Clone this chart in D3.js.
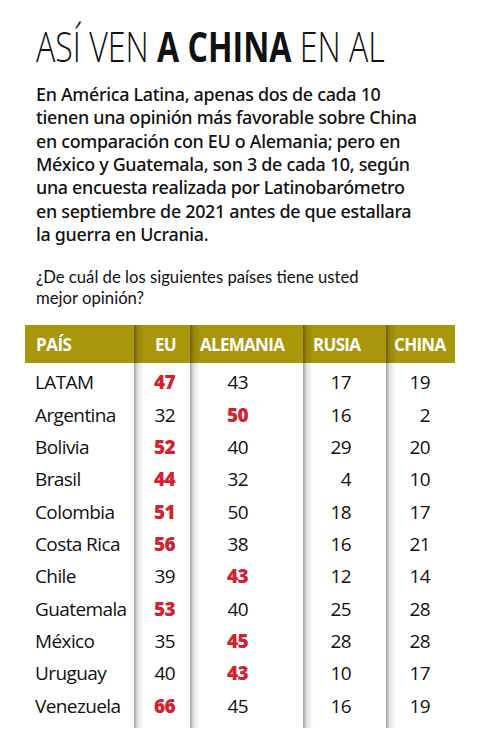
<!DOCTYPE html>
<html>
<head>
<meta charset="utf-8">
<script src="https://cdn.jsdelivr.net/npm/d3@7"></script>
<style>
  html, body { margin: 0; padding: 0; background: #fff; }
  svg { display: block; }
</style>
</head>
<body>
<div id="chart"></div>
<script>
const countries = ['LATAM', 'Argentina', 'Bolivia', 'Brasil', 'Colombia', 'Costa Rica',
                   'Chile', 'Guatemala', 'México', 'Uruguay', 'Venezuela'];
const columns = ['EU', 'ALEMANIA', 'RUSIA', 'CHINA'];
const euValues       = [47, 32, 52, 44, 51, 56, 39, 53, 35, 40, 66];
const alemaniaValues = [43, 50, 40, 32, 50, 38, 43, 40, 45, 43, 45];
const rusiaValues    = [17, 16, 29,  4, 18, 16, 12, 25, 28, 10, 16];
const chinaValues    = [19,  2, 20, 10, 17, 21, 14, 28, 28, 17, 19];

const titleParts = [
  { text: 'ASÍ VEN ', bold: false },
  { text: 'A CHINA', bold: true },
  { text: ' EN AL', bold: false }
];
const introLines = [
  'En América Latina, apenas dos de cada 10',
  'tienen una opinión más favorable sobre China',
  'en comparación con EU o Alemania; pero en',
  'México y Guatemala, son 3 de cada 10, según',
  'una encuesta realizada por Latinobarómetro',
  'en septiembre de 2021 antes de que estallara',
  'la guerra en Ucrania.'
];
const questionLines = [
  '¿De cuál de los siguientes países tiene usted',
  'mejor opinión?'
];

const width = 482
    , height = 756
    , gold = '#a8960b'
    , red = '#d0232f'
    , ink = '#111'
    , font = '"Open Sans", "Noto Sans", sans-serif'
    ;

const rows = countries.map((name, i) => ({
  name,
  values: [euValues[i], alemaniaValues[i], rusiaValues[i], chinaValues[i]]
}));

const svg = d3.select('#chart')
  .append('svg')
  .attr('width', width)
  .attr('height', height);

const defs = svg.append('defs');
const shade = defs.append('linearGradient')
  .attr('id', 'shade')
  .attr('x1', 0).attr('x2', 1).attr('y1', 0).attr('y2', 0);
shade.append('stop').attr('offset', 0).attr('stop-color', '#000').attr('stop-opacity', 0.38);
shade.append('stop').attr('offset', 0.35).attr('stop-color', '#000').attr('stop-opacity', 0.12);
shade.append('stop').attr('offset', 1).attr('stop-color', '#000').attr('stop-opacity', 0);

// title: condensed by a horizontal scale so it spans the same width as the reference
const titleG = svg.append('g');
const title = titleG.append('text')
  .style('font', `300 42px ${font}`)
  .style('fill', ink);
title.selectAll('tspan')
  .data(titleParts)
  .join('tspan')
    .style('font-weight', d => d.bold ? 700 : 300)
    .text(d => d.text);
const titleW = title.node().getComputedTextLength();
titleG.attr('transform', `translate(36,62) scale(${349 / titleW},1)`);

// intro
svg.append('g')
  .style('font', `500 17.9px "Noto Sans", sans-serif`)
  .style('fill', ink)
  .selectAll('text')
  .data(introLines)
  .join('text')
    .attr('x', 36)
    .attr('y', (d, i) => 101 + i * 23.3)
    .style('letter-spacing', '-0.3px')
    .text(d => d);

// question
svg.append('g')
  .style('font', `400 16.7px Lato, "Open Sans", sans-serif`)
  .style('fill', ink)
  .selectAll('text')
  .data(questionLines)
  .join('text')
    .attr('x', 36)
    .attr('y', (d, i) => 283 + i * 21)
    .text(d => d);

// table layout
const tableLeft = 25, tableRight = 455;
const colEdges = [134, 190, 303, 386, tableRight];   // left edge of each value column, then table end
const headerTop = 325, headerBottom = 363, tableBottom = 728;

const y = d3.scaleBand()
  .domain(countries)
  .range([headerBottom + 3, tableBottom - 6]);

const colLeft = d3.scaleOrdinal().domain(columns).range(colEdges.slice(0, 4));
const colRight = d3.scaleOrdinal().domain(columns).range(colEdges.slice(1));

svg.append('rect')
  .attr('x', tableLeft)
  .attr('y', headerTop)
  .attr('width', tableRight - tableLeft)
  .attr('height', headerBottom - headerTop)
  .attr('fill', gold);

// column shadows
svg.append('g')
  .selectAll('rect')
  .data(columns)
  .join('rect')
    .attr('x', d => colLeft(d))
    .attr('y', headerTop)
    .attr('width', 10)
    .attr('height', tableBottom - headerTop)
    .attr('fill', 'url(#shade)');

// header labels
const header = svg.append('g')
  .style('font', `700 17px ${font}`)
  .style('fill', '#fff');

header.append('text')
  .attr('x', 36)
  .attr('y', 351)
  .style('letter-spacing', '-0.5px')
  .text('PAÍS');

header.selectAll('text.col')
  .data(columns)
  .join('text')
    .attr('class', 'col')
    .attr('x', d => d === 'EU' ? colRight(d) - 14 : colLeft(d) + (d === 'CHINA' ? 8 : 10))
    .attr('y', 351)
    .attr('text-anchor', d => d === 'EU' ? 'end' : 'start')
    .style('letter-spacing', '-0.7px')
    .text(d => d);

// body rows
const body = svg.append('g')
  .style('font', `400 19px ${font}`)
  .style('fill', ink);

const row = body.selectAll('g')
  .data(rows)
  .join('g')
    .attr('transform', d => `translate(0,${y(d.name) + y.bandwidth() / 2 + 7})`);

row.append('text')
  .attr('x', 35)
  .style('letter-spacing', '-0.6px')
  .text(d => d.name);

const valueRight = { EU: 175, ALEMANIA: 248, RUSIA: 351, CHINA: 430 };

row.selectAll('text.val')
  .data(d => {
    const top = d3.max(d.values);
    return d.values.map((v, i) => ({ col: columns[i], v, top: v === top }));
  })
  .join('text')
    .attr('class', 'val')
    .attr('x', d => valueRight[d.col])
    .attr('text-anchor', 'end')
    .style('font-weight', d => d.top ? 800 : 400)
    .style('fill', d => d.top ? red : ink)
    .style('letter-spacing', '-0.6px')
    .text(d => d.v);
</script>
</body>
</html>
